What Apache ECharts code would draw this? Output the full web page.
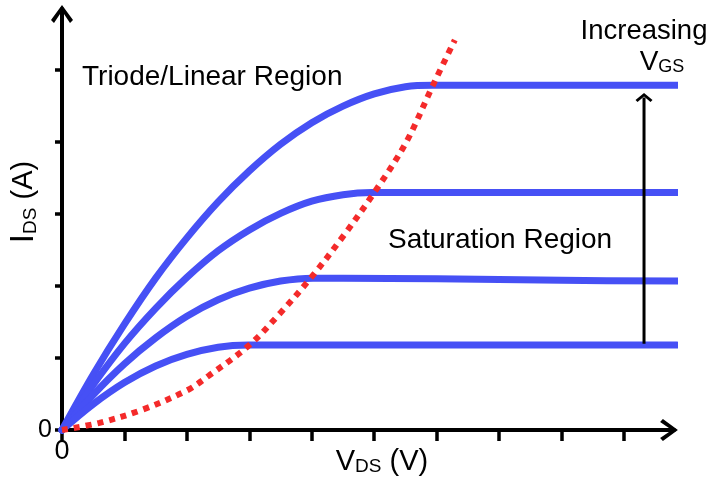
<!DOCTYPE html>
<html>
<head>
<meta charset="utf-8">
<script src="https://cdn.jsdelivr.net/npm/echarts@6/dist/echarts.min.js"></script>
<style>html,body{margin:0;padding:0;background:#fff}#c{width:709px;height:488px}</style>
</head>
<body>
<div id="c"></div>
<script>
// Tick positions and labels
const xTicks = [0, 1, 2, 3, 4, 5, 6, 7, 8, 9];
const yTicks = [0, 1, 2, 3, 4, 5];
const xLabelValues = [0];
const yLabelValues = [0];

// I-V curves (V_DS, I_DS)
const curve1X = [0, 0.5, 1, 1.5, 2, 2.5, 3, 3.5, 4, 4.5, 5, 5.5, 5.94, 6.5, 9.85];
const curve1Y = [0, 0.77, 1.47, 2.11, 2.67, 3.17, 3.60, 3.97, 4.27, 4.50, 4.67, 4.77, 4.79, 4.79, 4.79];
const curve2X = [0, 0.5, 1, 1.5, 2, 2.5, 3, 3.5, 4, 4.5, 4.96, 5.5, 9.85];
const curve2Y = [0, 0.63, 1.20, 1.69, 2.12, 2.49, 2.78, 3.01, 3.18, 3.27, 3.30, 3.30, 3.30];
const curve3X = [0, 0.5, 1, 1.5, 2, 2.5, 3, 3.5, 4.02, 4.5, 6, 8, 9.85];
const curve3Y = [0, 0.49, 0.92, 1.28, 1.58, 1.81, 1.97, 2.07, 2.11, 2.11, 2.10, 2.08, 2.07];
const curve4X = [0, 0.5, 1, 1.5, 2, 2.5, 2.98, 3.5, 9.85];
const curve4Y = [0, 0.36, 0.66, 0.89, 1.05, 1.15, 1.18, 1.18, 1.18];

// Saturation boundary (red dotted)
const boundaryX = [0, 0.6, 1.28, 2, 2.36, 3, 3.5, 4, 4.5, 5, 5.5, 5.94, 6.29];
const boundaryY = [0, 0.10, 0.28, 0.55, 0.76, 1.18, 1.63, 2.13, 2.69, 3.30, 3.98, 4.79, 5.42];

// "Increasing V_GS" arrow
const arrowX = 9.32;
const arrowFrom = 1.2;
const arrowTo = 4.62;

const zip = (xs, ys) => xs.map((x, i) => [x, ys[i]]);

const FONT = '"Liberation Sans", Arial, Helvetica, sans-serif';
const BLUE = '#4650f5';
const RED = '#f42a2a';
const axisChevron = 'path://M11,0 L22,15 L19,17.8 L11,6 L3,17.8 L0,15 Z';
const smallChevron = 'path://M8.5,0 L17,7 L15,9 L8.5,3.5 L2,9 L0,7 Z';

const blueSeries = (xs, ys) => ({
  type: 'line',
  data: zip(xs, ys),
  smooth: 0.35,
  showSymbol: false,
  symbol: 'none',
  clip: false,
  silent: true,
  z: 3,
  lineStyle: { color: BLUE, width: 7, cap: 'round', join: 'round' }
});

const chart = echarts.init(document.getElementById('c'), null, { renderer: 'canvas' });
chart.setOption({
  animation: false,
  backgroundColor: '#fff',
  grid: { left: 62, right: 35, top: 9, bottom: 58 },
  xAxis: {
    type: 'value', min: 0, max: 9.8, interval: 1,
    axisLine: { show: true, onZero: false, lineStyle: { color: '#000', width: 4 },
      symbol: ['none', axisChevron], symbolSize: [22, 18], symbolOffset: [0, -5] },
    axisTick: { show: true, length: 11, lineStyle: { color: '#000', width: 3.5 }, customValues: xTicks },
    axisLabel: { show: true, customValues: xLabelValues, color: '#000', fontSize: 27, fontFamily: FONT, margin: 8,
      formatter: v => String(v) },
    splitLine: { show: false }
  },
  yAxis: {
    type: 'value', min: 0, max: 5.85, interval: 1,
    axisLine: { show: true, onZero: false, lineStyle: { color: '#000', width: 4 },
      symbol: ['none', axisChevron], symbolSize: [22, 18], symbolOffset: [0, -5] },
    axisTick: { show: true, length: 7, lineStyle: { color: '#000', width: 3.5 }, customValues: yTicks },
    axisLabel: { show: true, customValues: yLabelValues, color: '#000', fontSize: 25, fontFamily: FONT, margin: 10,
      formatter: v => String(v) },
    splitLine: { show: false }
  },
  series: [
    blueSeries(curve1X, curve1Y),
    blueSeries(curve2X, curve2Y),
    blueSeries(curve3X, curve3Y),
    blueSeries(curve4X, curve4Y),
    {
      type: 'line',
      data: zip(boundaryX, boundaryY),
      smooth: 0.35,
      showSymbol: false,
      symbol: 'none',
      clip: false,
      silent: true,
      z: 4,
      lineStyle: { color: RED, width: 6, type: [6, 6], cap: 'butt' }
    },
    {
      type: 'line',
      data: [[arrowX, arrowFrom], [arrowX, arrowTo]],
      showSymbol: false,
      symbol: 'none',
      silent: true,
      z: 5,
      lineStyle: { color: '#000', width: 3 },
      markPoint: {
        silent: true,
        symbol: smallChevron,
        symbolSize: [17, 9],
        itemStyle: { color: '#000' },
        label: { show: false },
        data: [{ coord: [arrowX, arrowTo] }]
      }
    }
  ],
  graphic: [
    { type: 'text', x: 82, y: 77, silent: true,
      style: { text: 'Triode/Linear Region', fontSize: 28, fontFamily: FONT, fill: '#000', verticalAlign: 'middle' } },
    { type: 'text', x: 388, y: 240, silent: true,
      style: { text: 'Saturation Region', fontSize: 28, fontFamily: FONT, fill: '#000', verticalAlign: 'middle' } },
    { type: 'text', x: 644, y: 31, silent: true,
      style: { text: 'Increasing', fontSize: 27.5, fontFamily: FONT, fill: '#000', align: 'center', verticalAlign: 'middle' } },
    { type: 'text', x: 662, y: 62, silent: true,
      style: { text: '{m|V}{s|GS}', align: 'center', verticalAlign: 'middle',
        rich: { m: { fontSize: 28, fontFamily: FONT, fill: '#000' },
                s: { fontSize: 18, fontFamily: FONT, fill: '#000', verticalAlign: 'bottom' } } } },
    { type: 'text', x: 382, y: 462, silent: true,
      style: { text: '{m|V}{s|DS}{m| (V)}', align: 'center', verticalAlign: 'middle',
        rich: { m: { fontSize: 29, fontFamily: FONT, fill: '#000' },
                s: { fontSize: 19, fontFamily: FONT, fill: '#000', verticalAlign: 'bottom' } } } },
    { type: 'text', x: 24, y: 202, rotation: Math.PI / 2, silent: true,
      style: { text: '{i|I}{s|DS}{m| (A)}', align: 'center', verticalAlign: 'middle',
        rich: { i: { fontSize: 33, fontFamily: FONT, fill: '#000' },
                m: { fontSize: 29, fontFamily: FONT, fill: '#000' },
                s: { fontSize: 19, fontFamily: FONT, fill: '#000', verticalAlign: 'bottom' } } } }
  ]
});
</script>
</body>
</html>
